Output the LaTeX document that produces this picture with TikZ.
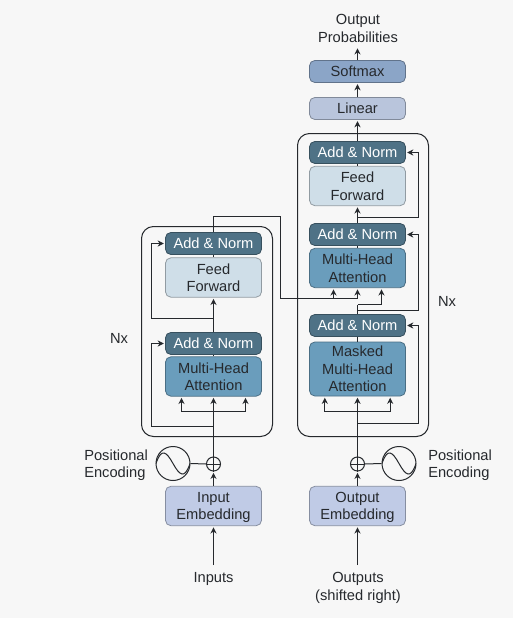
\documentclass[tikz,border=0pt]{standalone}
\usepackage{fontspec}
\setmainfont{Liberation Sans}
\usetikzlibrary{arrows.meta}
\definecolor{pagebg}{HTML}{F7F7F7}
\definecolor{inktext}{HTML}{26292D}
\definecolor{normfill}{HTML}{4F7286}
\definecolor{attnfill}{HTML}{6A9DBC}
\definecolor{feedfill}{HTML}{CFDEE8}
\definecolor{embfill}{HTML}{C0CBE6}
\definecolor{linfill}{HTML}{B9C5DC}
\definecolor{softfill}{HTML}{8BA5C7}
\tikzset{
  layer/.style={draw=#1!70!black, fill=#1, rounded corners=4pt, line width=0.6pt,
    minimum width=72pt, align=center, text=inktext, inner sep=0pt, text depth=-1.2pt,
    font=\fontsize{11}{13.1}\selectfont},
  addnorm/.style={layer=normfill, minimum height=16.5pt, text=white},
  thinbox/.style={layer=#1, minimum height=16.5pt},
  twobox/.style={layer=#1, minimum height=29.5pt},
  caption/.style={text=inktext, align=center, inner sep=0pt, font=\fontsize{11}{13.1}\selectfont},
  stack/.style={draw=inktext, line width=0.75pt, rounded corners=9pt},
  flow/.style={-{Stealth[length=4.6pt, width=4.6pt]}, draw=inktext, line width=0.75pt, shorten >=1pt},
  wire/.style={draw=inktext, line width=0.75pt},
  adder/.style={circle, draw=inktext, line width=0.75pt, minimum size=10.5pt, inner sep=0pt},
  sine/.style={circle, draw=inktext, line width=0.75pt, minimum size=25.5pt, inner sep=0pt,
    path picture={\draw[inktext, line width=0.75pt] (path picture bounding box.west)
      .. controls +(4pt,12pt) and +(-5pt,9pt) .. (path picture bounding box.center)
      .. controls +(5pt,-9pt) and +(-4pt,-12pt) .. (path picture bounding box.east);}},
}
\begin{document}
\begin{tikzpicture}[x=0.75pt, y=-0.75pt]
	\useasboundingbox[fill=pagebg] (0, 0) rectangle (513, 618);

	% stacks
	\draw[stack] (141.5, 226.5) rectangle (272.5, 436.5);
	\draw[stack] (297.5, 133.5) rectangle (428.5, 436.5);

	% encoder side
	\node[caption] (inputs) at (213.5, 578.5) {Inputs};
	\node[twobox=embfill] (inemb) at (213.5, 506) {Input\\Embedding};
	\node[adder] (addin) at (213.5, 464) {};
	\node[sine] (sinein) at (173, 463.5) {};
	\node[caption, align=left, anchor=west] (posin) at (84, 465) {Positional\\Encoding};
	\node[twobox=attnfill] (enatt) at (213.5, 376.5) {Multi-Head\\Attention};
	\node[addnorm] (ennorma) at (213.5, 343.5) {Add \& Norm};
	\node[twobox=feedfill] (enfeed) at (213.5, 277.5) {Feed\\Forward};
	\node[addnorm] (ennormb) at (213.5, 243.5) {Add \& Norm};
	\node[caption] (nxin) at (119, 338) {Nx};

	% decoder side
	\node[caption] (outputs) at (358, 588) {Outputs\\(shifted right)};
	\node[twobox=embfill] (outemb) at (357.5, 506) {Output\\Embedding};
	\node[adder] (addout) at (357.5, 464) {};
	\node[sine] (sineout) at (399, 463.5) {};
	\node[caption, align=left, anchor=west] (posout) at (428, 465) {Positional\\Encoding};
	\node[layer=attnfill, minimum height=40.5pt] (demask) at (357.5, 369) {Masked\\Multi-Head\\Attention};
	\node[addnorm] (denorma) at (357.5, 325.5) {Add \& Norm};
	\node[twobox=attnfill] (deatt) at (357.5, 268) {Multi-Head\\Attention};
	\node[addnorm] (denormb) at (357.5, 234.5) {Add \& Norm};
	\node[twobox=feedfill] (defeed) at (357.5, 186) {Feed\\Forward};
	\node[addnorm] (denormc) at (357.5, 152.5) {Add \& Norm};
	\node[thinbox=linfill] (linear) at (357.5, 108.5) {Linear};
	\node[thinbox=softfill] (softmax) at (357.5, 71.5) {Softmax};
	\node[caption] (probs) at (358, 28.5) {Output\\Probabilities};
	\node[caption] (nxout) at (447, 301) {Nx};

	% bends
	\coordinate (intail) at (213.5, 565);
	\coordinate (outtail) at (357.5, 565);
	\coordinate (entap) at (213.5, 426.5);
	\coordinate (enresa) at (151.5, 426.5);
	\coordinate (enfork) at (213.5, 411.5);
	\coordinate (entop) at (213.5, 216.5);
	\coordinate (crossa) at (280.5, 216.5);
	\coordinate (crossb) at (280.5, 298.5);
	\coordinate (enmid) at (213.5, 318.5);
	\coordinate (enresb) at (151.5, 318.5);
	\coordinate (detap) at (357.5, 423.5);
	\coordinate (deresa) at (418.5, 423.5);
	\coordinate (defork) at (357.5, 411.5);
	\coordinate (demida) at (357.5, 310.5);
	\coordinate (deresb) at (418.5, 310.5);
	\coordinate (dejoin) at (357.5, 304.5);
	\coordinate (deenc) at (357.5, 298.5);
	\coordinate (demidb) at (357.5, 217.5);
	\coordinate (deresc) at (418.5, 217.5);
	\coordinate (probtip) at (357.5, 47);

	% encoder arrows
	\draw[flow] (intail) -- (inemb.south);
	\draw[flow] (inemb.north) -- (addin.south);
	\draw[wire] (addin.south) -- (addin.north);
	\draw[wire] (addin.west) -- (addin.east);
	\draw[wire] (sinein.east) -- (addin.west);
	\draw[flow] (addin.north) -- (enatt.south);
	\draw[flow] (enfork) -| ([xshift=-24pt]enatt.south);
	\draw[flow] (enfork) -| ([xshift=24pt]enatt.south);
	\draw[flow] (entap) -- (enresa) |- (ennorma.west);
	\draw[wire] (enatt.north) -- (ennorma.south);
	\draw[flow] (ennorma.north) -- (enfeed.south);
	\draw[flow] (enmid) -- (enresb) |- (ennormb.west);
	\draw[wire] (enfeed.north) -- (ennormb.south);
	\draw[wire] (ennormb.north) -- (entop) -- (crossa) -- (crossb) -- (deenc);

	% decoder arrows
	\draw[flow] (outtail) -- (outemb.south);
	\draw[flow] (outemb.north) -- (addout.south);
	\draw[wire] (addout.south) -- (addout.north);
	\draw[wire] (addout.west) -- (addout.east);
	\draw[wire] (sineout.west) -- (addout.east);
	\draw[flow] (addout.north) -- (demask.south);
	\draw[flow] (defork) -| ([xshift=-24.5pt]demask.south);
	\draw[flow] (defork) -| ([xshift=24.5pt]demask.south);
	\draw[flow] (detap) -- (deresa) |- (denorma.east);
	\draw[wire] (demask.north) -- (denorma.south);
	\draw[wire] (denorma.north) -- (dejoin);
	\draw[flow] (dejoin) -| ([xshift=18pt]deatt.south);
	\draw[flow] (deenc) -- (deatt.south);
	\draw[flow] (deenc) -| ([xshift=-18pt]deatt.south);
	\draw[flow] (demida) -- (deresb) |- (denormb.east);
	\draw[wire] (deatt.north) -- (denormb.south);
	\draw[flow] (denormb.north) -- (defeed.south);
	\draw[flow] (demidb) -- (deresc) |- (denormc.east);
	\draw[wire] (defeed.north) -- (denormc.south);
	\draw[flow] (denormc.north) -- (linear.south);
	\draw[flow] (linear.north) -- (softmax.south);
	\draw[flow] (softmax.north) -- (probtip);
\end{tikzpicture}
\end{document}
